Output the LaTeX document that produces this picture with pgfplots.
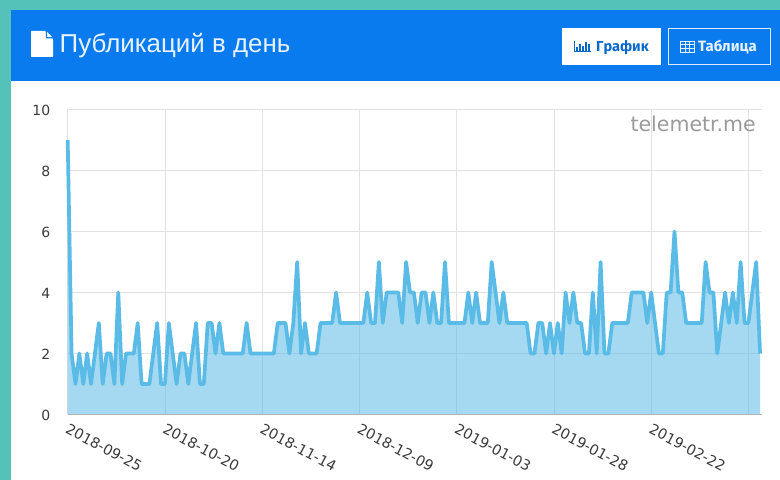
\documentclass[border=0pt]{standalone}
\usepackage{fontspec}
\setmainfont{DejaVu Sans}
\newfontfamily\titlefont{Liberation Sans}
\newfontfamily\btnfont{Fira Sans}
\usepackage{pgfplots}
\usepackage{pgfplotstable}
\pgfplotsset{compat=1.18}
\definecolor{teal1}{HTML}{55C2BA}
\definecolor{hdr}{HTML}{0A7BEF}
\definecolor{ln}{HTML}{5ABBE6}
\definecolor{gridc}{HTML}{E2E2E2}
\definecolor{tickc}{HTML}{3C3C3C}
\definecolor{wm}{HTML}{9A9A9A}
\pgfplotstableread[row sep=\\]{
x y\\
0 9\\ 1 2\\ 2 1\\ 3 2\\ 4 1\\ 5 2\\ 6 1\\ 7 2\\ 8 3\\ 9 1\\
10 2\\ 11 2\\ 12 1\\ 13 4\\ 14 1\\ 15 2\\ 16 2\\ 17 2\\ 18 3\\ 19 1\\
20 1\\ 21 1\\ 22 2\\ 23 3\\ 24 1\\ 25 1\\ 26 3\\ 27 2\\ 28 1\\ 29 2\\
30 2\\ 31 1\\ 32 2\\ 33 3\\ 34 1\\ 35 1\\ 36 3\\ 37 3\\ 38 2\\ 39 3\\
40 2\\ 41 2\\ 42 2\\ 43 2\\ 44 2\\ 45 2\\ 46 3\\ 47 2\\ 48 2\\ 49 2\\
50 2\\ 51 2\\ 52 2\\ 53 2\\ 54 3\\ 55 3\\ 56 3\\ 57 2\\ 58 3\\ 59 5\\
60 2\\ 61 3\\ 62 2\\ 63 2\\ 64 2\\ 65 3\\ 66 3\\ 67 3\\ 68 3\\ 69 4\\
70 3\\ 71 3\\ 72 3\\ 73 3\\ 74 3\\ 75 3\\ 76 3\\ 77 4\\ 78 3\\ 79 3\\
80 5\\ 81 3\\ 82 4\\ 83 4\\ 84 4\\ 85 4\\ 86 3\\ 87 5\\ 88 4\\ 89 4\\
90 3\\ 91 4\\ 92 4\\ 93 3\\ 94 4\\ 95 3\\ 96 3\\ 97 5\\ 98 3\\ 99 3\\
100 3\\ 101 3\\ 102 3\\ 103 4\\ 104 3\\ 105 4\\ 106 3\\ 107 3\\ 108 3\\ 109 5\\
110 4\\ 111 3\\ 112 4\\ 113 3\\ 114 3\\ 115 3\\ 116 3\\ 117 3\\ 118 3\\ 119 2\\
120 2\\ 121 3\\ 122 3\\ 123 2\\ 124 3\\ 125 2\\ 126 3\\ 127 2\\ 128 4\\ 129 3\\
130 4\\ 131 3\\ 132 3\\ 133 2\\ 134 2\\ 135 4\\ 136 2\\ 137 5\\ 138 2\\ 139 2\\
140 3\\ 141 3\\ 142 3\\ 143 3\\ 144 3\\ 145 4\\ 146 4\\ 147 4\\ 148 4\\ 149 3\\
150 4\\ 151 3\\ 152 2\\ 153 2\\ 154 4\\ 155 4\\ 156 6\\ 157 4\\ 158 4\\ 159 3\\
160 3\\ 161 3\\ 162 3\\ 163 3\\ 164 5\\ 165 4\\ 166 4\\ 167 2\\ 168 3\\ 169 4\\
170 3\\ 171 4\\ 172 3\\ 173 5\\ 174 3\\ 175 3\\ 176 4\\ 177 5\\ 178 2\\
}\pubdata
\begin{document}
\begin{tikzpicture}[x=1bp,y=1bp]
\useasboundingbox (0,0) rectangle (780,480);
\clip (0,0) rectangle (780,480);
% page background (y measured from the bottom: 480 - pixel row)
\fill[teal1] (0,0) rectangle (780,480);
\fill[white] (11,0) rectangle (780,470);
\fill[hdr] (11,398.5) rectangle (780,470);
% header: file icon
\fill[white] (31,423) -- (31,449) -- (45,449) -- (53,441) -- (53,423) -- cycle;
\fill[hdr] (45.8,449.5) -- (45.8,441.5) -- (53.5,441.5) -- (53.5,442.5) -- (46.8,449.5) -- cycle;
\fill[white] (47,448) -- (47,443) -- (52,443) -- cycle;
\node[anchor=base west,inner sep=0pt,text=white!90!hdr,font=\titlefont\fontsize{25.9bp}{28bp}\selectfont] at (59.5,427.5) {Публикаций в день};
% buttons
\fill[white] (562,415) rectangle (661,452);
\draw[white!85!hdr,line width=1bp] (668.5,415.5) rectangle (770.5,451.5);
\foreach \a/\h in {575.5/4,578.5/7,581.5/5,584.5/9,587.5/7}
  \fill[hdr!85!black] (\a,429) rectangle ++(2,\h);
\fill[hdr!85!black] (574,427.5) rectangle (590.5,428.5);
\fill[hdr!85!black] (574,427.5) rectangle (575,439);
\draw[white!90!hdr,line width=.9bp] (680.5,428) rectangle (694,439);
\draw[white!90!hdr,line width=.7bp] (680.5,431.7) -- (694,431.7) (680.5,435.3) -- (694,435.3) (685,428) -- (685,439) (689.5,428) -- (689.5,439);
\node[anchor=base west,inner sep=0pt,text=hdr!85!black,font=\btnfont\bfseries\fontsize{14.5bp}{16bp}\selectfont] at (596,428) {График};
\node[anchor=base west,inner sep=0pt,text=white!90!hdr,font=\btnfont\bfseries\fontsize{15bp}{16bp}\selectfont] at (698,428) {Таблица};
\begin{axis}[
  at={(67.7bp,65.5bp)},anchor=south west,
  scale only axis,width=694.5bp,height=305bp,
  xmin=0,xmax=178.55,ymin=0,ymax=10,
  xtick={0,25,50,75,100,125,150,175},
  xticklabels={2018-09-25,2018-10-20,2018-11-14,2018-12-09,2019-01-03,2019-01-28,2019-02-22,},
  ytick={0,2,4,6,8,10},
  grid=both,
  major grid style={gridc,line width=.8bp},
  axis line style={draw=none},
  tick style={draw=none},
  axis on top=false,
  clip=false,
  /pgf/number format/assume math mode=true,
  tick label style={text=tickc,font=\fontsize{14bp}{16bp}\selectfont},
  yticklabel style={anchor=east,xshift=-14bp,yshift=-1bp},
  xticklabel style={rotate=-28,anchor=north west,xshift=3.5bp,yshift=-4.5bp,inner sep=2bp,font=\fontsize{14.4bp}{16bp}\selectfont},
]
\addplot[fill=ln,fill opacity=.55,draw=none] table[x=x,y=y]{\pubdata} \closedcycle;
\addplot[ln,line width=3.7bp,line join=round,no markers] table[x=x,y=y]{\pubdata};
\addplot[draw=gray!60!white,line width=1bp,no markers] coordinates {(0,0)(178.55,0)};
\end{axis}
\node[anchor=base east,inner sep=0pt,text=wm,font=\fontsize{20.5bp}{24bp}\selectfont] at (756,348) {telemetr.me};
\end{tikzpicture}
\end{document}
